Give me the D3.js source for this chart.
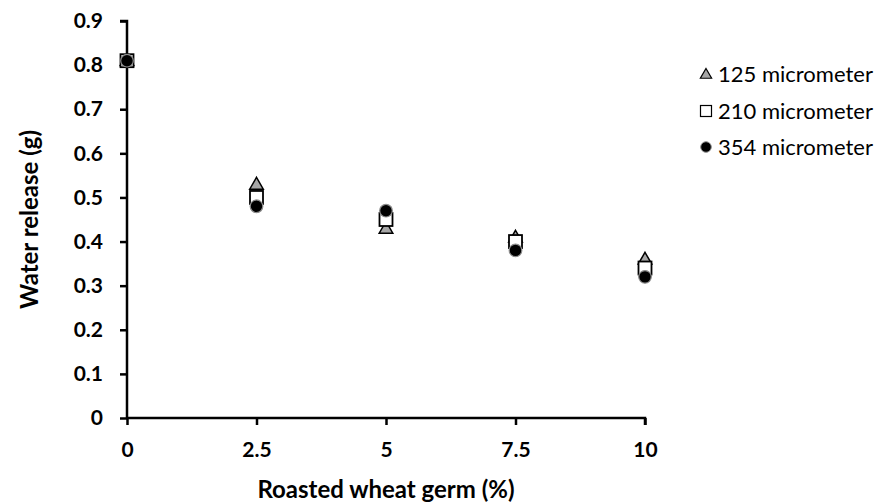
<!DOCTYPE html>
<html>
<head>
<meta charset="utf-8">
<script src="https://cdn.jsdelivr.net/npm/d3@7"></script>
<style>
  body { margin: 0; background: #fff; }
  text { font-family: Lato, "Open Sans", "Liberation Sans", sans-serif; }
</style>
</head>
<body>
<div id="chart"></div>
<script>
// data
const germ = [0, 2.5, 5, 7.5, 10];
const release125 = [0.81, 0.53, 0.43, 0.41, 0.36];
const release210 = [0.81, 0.50, 0.45, 0.40, 0.34];
const release354 = [0.81, 0.48, 0.47, 0.38, 0.32];
const seriesNames = ['125 micrometer', '210 micrometer', '354 micrometer'];
const xTicks = [0, 2.5, 5, 7.5, 10];
const yTicks = [0, 0.1, 0.2, 0.3, 0.4, 0.5, 0.6, 0.7, 0.8, 0.9];

let width = 887, height = 504;
let margin = {left: 127, right: 242, top: 21, bottom: 86};

let svg = d3.select('#chart').append('svg')
  .attr('width', width).attr('height', height);

let x = d3.scaleLinear().domain([0, 10]).range([margin.left, width - margin.right]);
let y = d3.scaleLinear().domain([0, 0.9]).range([height - margin.bottom, margin.top]);

// axes
let xAxis = svg.append('g')
  .attr('transform', 'translate(0,' + y(0) + ')')
  .call(d3.axisBottom(x).tickValues(xTicks).tickSize(7).tickPadding(17).tickFormat(d3.format('')));
let yAxis = svg.append('g')
  .attr('transform', 'translate(' + x(0) + ',0)')
  .call(d3.axisLeft(y).tickValues(yTicks).tickSize(7).tickPadding(17).tickFormat(d => d === 0 ? '0' : d3.format('.1f')(d)));

[xAxis, yAxis].forEach(function(g) {
  g.select('.domain').attr('stroke', '#000').attr('stroke-width', 2.5);
  g.selectAll('.tick line').attr('stroke', '#000').attr('stroke-width', 2.5);
  g.selectAll('.tick text')
    .attr('fill', '#000')
    .style('font-size', '21px')
    .style('font-weight', 'bold')
    .style('font-family', 'Lato, "Open Sans", "Liberation Sans", sans-serif');
});
yAxis.select('.domain').attr('d', 'M-7,' + y(0.9) + 'H0V' + y(0));
xAxis.select('.domain').attr('d', 'M' + x(0) + ',0H' + x(10) + 'V7');

// axis titles
svg.append('text')
  .attr('x', (x(0) + x(10)) / 2).attr('y', 498)
  .attr('text-anchor', 'middle')
  .style('font-size', '24px').style('font-weight', 'bold')
  .text('Roasted wheat germ (%)');
svg.append('text')
  .attr('transform', 'translate(38,' + ((y(0) + y(0.9)) / 2) + ') rotate(-90)')
  .attr('text-anchor', 'middle')
  .style('font-size', '24px').style('font-weight', 'bold')
  .text('Water release (g)');

// markers
let tri = d3.symbol().type(d3.symbolTriangle).size(80);

svg.append('g').selectAll('path')
  .data(germ.map((g, i) => [g, release125[i]]))
  .enter().append('path')
  .attr('d', tri)
  .attr('transform', d => 'translate(' + x(d[0]) + ',' + (y(d[1]) + 1) + ')')
  .attr('fill', '#a6a6a6').attr('stroke', '#000').attr('stroke-width', 1.5);

svg.append('g').selectAll('rect')
  .data(germ.map((g, i) => [g, release210[i]]))
  .enter().append('rect')
  .attr('x', d => x(d[0]) - 6.5).attr('y', d => y(d[1]) - 6.5)
  .attr('width', 13).attr('height', 13)
  .attr('fill', '#fff').attr('stroke', '#000').attr('stroke-width', 1.8);

svg.append('g').selectAll('circle')
  .data(germ.map((g, i) => [g, release354[i]]))
  .enter().append('circle')
  .attr('cx', d => x(d[0])).attr('cy', d => y(d[1]))
  .attr('r', 6.3)
  .attr('fill', '#000').attr('stroke', '#8c8c8c').attr('stroke-width', 1.2);

// legend
let legendY = [74, 111, 147];
let legend = svg.append('g');
legend.append('path')
  .attr('d', d3.symbol().type(d3.symbolTriangle).size(55))
  .attr('transform', 'translate(706,' + (legendY[0] + 1) + ')')
  .attr('fill', '#a6a6a6').attr('stroke', '#000').attr('stroke-width', 1.2);
legend.append('rect')
  .attr('x', 700.5).attr('y', legendY[1] - 5.5).attr('width', 11).attr('height', 11)
  .attr('fill', '#fff').attr('stroke', '#000').attr('stroke-width', 1.2);
legend.append('circle')
  .attr('cx', 706).attr('cy', legendY[2]).attr('r', 5.3)
  .attr('fill', '#000').attr('stroke', '#8c8c8c').attr('stroke-width', 1);
legend.selectAll('text')
  .data(seriesNames)
  .enter().append('text')
  .attr('x', 718).attr('y', (d, i) => legendY[i])
  .attr('dy', '0.35em')
  .style('font-size', '22px')
  .text(d => d);
</script>
</body>
</html>
